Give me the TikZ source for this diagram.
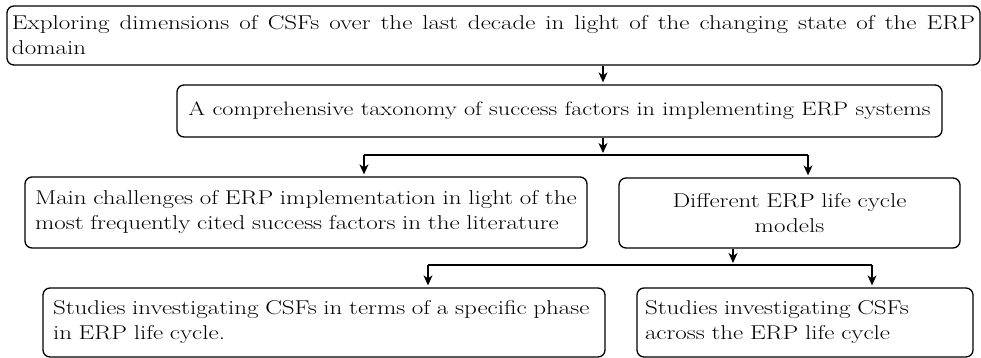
\documentclass[tikz,border=0pt]{standalone}
\usepackage{fontspec}
\setmainfont{Latin Modern Roman}[FakeStretch=1.25]
\usetikzlibrary{arrows.meta}
\begin{document}
\begin{tikzpicture}[x=1pt,y=-1pt,
  box/.style={draw, line width=1.3pt, rounded corners=7pt, inner ysep=0pt,
    font=\fontsize{20}{25}\selectfont},
  arr/.style={line width=1.2pt, -{Stealth[length=10pt,width=9pt,inset=3pt]}, shorten >=2pt},
  hline/.style={line width=1.2pt}]
\useasboundingbox (0,0) rectangle (981,358);
% boxes
\node[box, minimum width=973pt, minimum height=59pt, inner xsep=5pt, text width=963pt, align=justify]
  (b1) at (493.5,35.5) {\rightskip=10pt Exploring dimensions of CSFs over the last decade in light of the changing state of the ERP\linebreak domain};
\node[box, minimum width=765pt, minimum height=52pt, inner xsep=2pt, font=\fontsize{19.4}{25}\selectfont]
  (b2) at (559.5,111) {A comprehensive taxonomy of success factors in implementing ERP systems};
\node[box, minimum width=562pt, minimum height=71pt, inner xsep=10pt, text width=542pt, align=left]
  (b3) at (306,212.5) {Main challenges of ERP implementation in light of the\\most frequently cited success factors in the literature};
\node[box, minimum width=341pt, minimum height=70pt, inner xsep=10pt, text width=321pt, align=center]
  (b4) at (789.5,213) {Different ERP life cycle\\models};
\node[box, minimum width=562pt, minimum height=69pt, inner xsep=10pt, text width=542pt, align=left]
  (b5) at (324,322.5) {Studies investigating CSFs in terms of a specific phase\\in ERP life cycle.};
\node[box, minimum width=336pt, minimum height=69pt, inner xsep=8pt, text width=320pt, align=left]
  (b6) at (805,322.5) {Studies investigating CSFs\\across the ERP life cycle};
% junction coordinates
\coordinate (j1) at (603,0);
\coordinate (h1l) at (364,155);
\coordinate (h1r) at (808,155);
\coordinate (j2) at (733,0);
\coordinate (h2l) at (428,265);
\coordinate (h2r) at (872,265);
% connectors
\draw[arr] (b1.south -| j1) -- (b2.north -| j1);
\draw[arr] (b2.south -| j1) -- (j1 |- h1l);
\draw[hline] (h1l) -- (h1r);
\draw[arr] (h1l) -- (b3.north -| h1l);
\draw[arr] (h1r) -- (b4.north -| h1r);
\draw[arr] (b4.south -| j2) -- (j2 |- h2l);
\draw[hline] (h2l) -- (h2r);
\draw[arr] (h2l) -- (b5.north -| h2l);
\draw[arr] (h2r) -- (b6.north -| h2r);
\end{tikzpicture}
\end{document}
